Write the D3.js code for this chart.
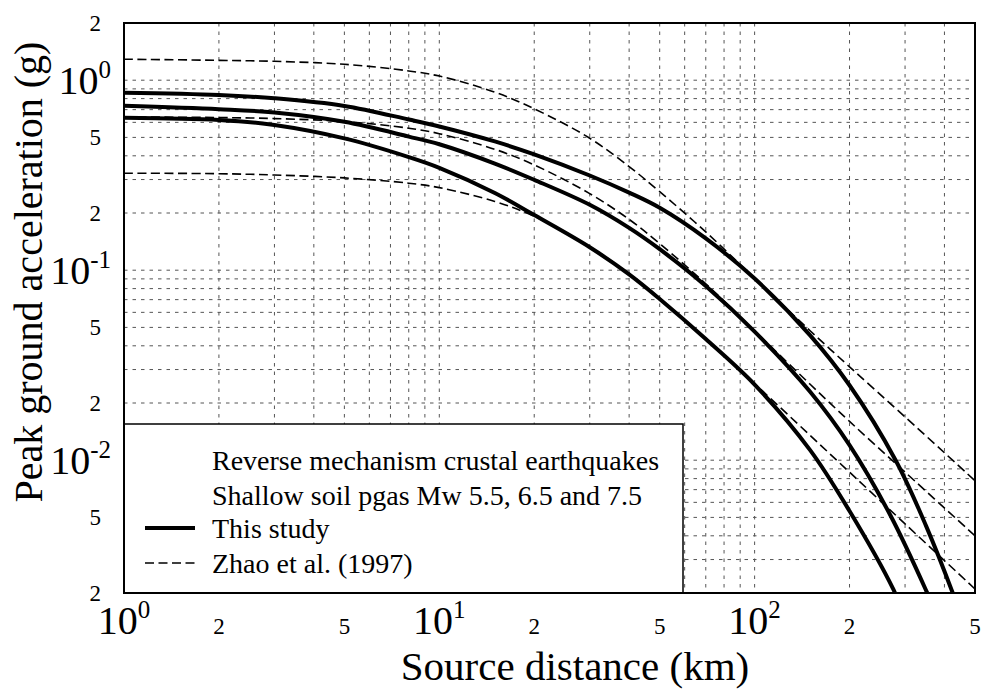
<!DOCTYPE html>
<html>
<head>
<meta charset="utf-8">
<script src="https://cdn.jsdelivr.net/npm/d3@7"></script>
<style>
  body { margin: 0; background: #fff; }
  svg text { font-family: "Liberation Serif", "Times New Roman", serif; fill: #000; }
</style>
</head>
<body>
<svg id="chart" width="982" height="690"></svg>
<script>
// Source distance (km) samples for the Zhao et al. (1997) curves
const zhaoDistance = [1, 2, 3, 5, 8, 10, 15, 20, 30, 40, 50, 70, 100, 150, 200, 300, 500];
// Zhao et al. (1997) PGA (g) for Mw 7.5, 6.5 and 5.5
const zhaoMw75 = [1.29, 1.272, 1.257, 1.213, 1.119, 1.051, 0.865, 0.707, 0.495, 0.351, 0.259, 0.159, 0.0906, 0.048, 0.031, 0.0169, 0.0078];
const zhaoMw65 = [0.64, 0.636, 0.628, 0.606, 0.559, 0.523, 0.433, 0.358, 0.253, 0.185, 0.138, 0.0848, 0.0479, 0.0251, 0.0160, 0.00866, 0.0040];
const zhaoMw55 = [0.324, 0.322, 0.317, 0.306, 0.287, 0.272, 0.230, 0.192, 0.133, 0.0958, 0.0709, 0.0435, 0.0253, 0.0135, 0.00865, 0.00462, 0.0021];

// This study: distances and PGA (g) for each magnitude
const studyDistanceMw75 = [1, 2, 3, 5, 8, 10, 15, 20, 30, 40, 50, 70, 100, 150, 200, 280, 350, 425, 440];
const studyMw75 = [0.86, 0.837, 0.803, 0.732, 0.621, 0.571, 0.476, 0.407, 0.315, 0.256, 0.213, 0.147, 0.0904, 0.0454, 0.0248, 0.0100, 0.0045, 0.0020, 0.0017];
const studyDistanceMw65 = [1, 2, 3, 5, 8, 10, 15, 20, 30, 40, 50, 70, 100, 150, 200, 270, 350, 365];
const studyMw65 = [0.734, 0.704, 0.676, 0.604, 0.505, 0.460, 0.364, 0.299, 0.221, 0.167, 0.129, 0.0826, 0.0475, 0.0229, 0.0120, 0.0051, 0.00206, 0.00175];
const studyDistanceMw55 = [1, 2, 3, 5, 8, 10, 15, 20, 30, 40, 50, 70, 100, 150, 200, 275, 290];
const studyMw55 = [0.635, 0.618, 0.581, 0.494, 0.394, 0.346, 0.255, 0.195, 0.132, 0.0950, 0.0705, 0.0434, 0.0250, 0.0113, 0.0054, 0.0021, 0.0017];

// Labelled tick values
const distanceTicks = [1, 2, 5, 10, 20, 50, 100, 200, 500];
const accelTicks = [2, 1, 0.5, 0.2, 0.1, 0.05, 0.02, 0.01, 0.005, 0.002];

const legendHeader = ["Reverse mechanism crustal earthquakes", "Shallow soil pgas Mw 5.5, 6.5 and 7.5"];
const legendEntries = [
  { label: "This study", solid: true },
  { label: "Zhao et al. (1997)", solid: false }
];

const svg = d3.select("#chart");
const plot = { left: 124, right: 975, top: 23, bottom: 593 };

const x = d3.scaleLog().domain([1, 500]).range([plot.left, plot.right]);
const y = d3.scaleLog().domain([0.002, 2]).range([plot.bottom, plot.top]);

// Grid at every 1..9 step of each decade
const xGrid = x.ticks().filter(v => v > 1 && v < 500);
const yGrid = y.ticks().filter(v => v > 0.002 && v < 2);
const grid = svg.append("g").attr("stroke", "#555").attr("stroke-width", 1).attr("stroke-dasharray", "3.5,5");
grid.selectAll("line.v").data(xGrid).join("line")
  .attr("x1", d => x(d)).attr("x2", d => x(d))
  .attr("y1", plot.top).attr("y2", plot.bottom);
grid.selectAll("line.h").data(yGrid).join("line")
  .attr("x1", plot.left).attr("x2", plot.right)
  .attr("y1", d => y(d)).attr("y2", d => y(d));

// Curves, clipped to the frame
svg.append("clipPath").attr("id", "plotClip").append("rect")
  .attr("x", plot.left).attr("y", plot.top)
  .attr("width", plot.right - plot.left).attr("height", plot.bottom - plot.top);

const line = d3.line().x(d => x(d[0])).y(d => y(d[1])).curve(d3.curveCatmullRom.alpha(0.5));
const curves = svg.append("g").attr("clip-path", "url(#plotClip)").attr("fill", "none").attr("stroke", "#000");

[zhaoMw75, zhaoMw65, zhaoMw55].forEach(vals => {
  curves.append("path")
    .attr("d", line(zhaoDistance.map((d, i) => [d, vals[i]])))
    .attr("stroke-width", 1.6).attr("stroke-dasharray", "9,4.5");
});
[[studyDistanceMw75, studyMw75], [studyDistanceMw65, studyMw65], [studyDistanceMw55, studyMw55]].forEach(([dist, vals]) => {
  curves.append("path")
    .attr("d", line(dist.map((d, i) => [d, vals[i]])))
    .attr("stroke-width", 4).attr("stroke-linejoin", "round");
});

// Legend
const legend = svg.append("g");
legend.append("rect")
  .attr("x", plot.left).attr("y", 424)
  .attr("width", 683 - plot.left).attr("height", plot.bottom - 424)
  .attr("fill", "#fff").attr("stroke", "#000").attr("stroke-width", 1.5);
legend.selectAll("text.head").data(legendHeader).join("text")
  .attr("x", 212).attr("y", (d, i) => 470 + i * 35)
  .attr("font-size", 28).text(d => d);
legendEntries.forEach((e, i) => {
  const yy = 538 + i * 35;
  legend.append("line")
    .attr("x1", 145).attr("x2", 195).attr("y1", yy - 10).attr("y2", yy - 10)
    .attr("stroke", "#000")
    .attr("stroke-width", e.solid ? 4 : 1.5)
    .attr("stroke-dasharray", e.solid ? null : "9,4.5");
  legend.append("text").attr("x", 212).attr("y", yy).attr("font-size", 28).text(e.label);
});

// Frame
svg.append("rect")
  .attr("x", plot.left).attr("y", plot.top)
  .attr("width", plot.right - plot.left).attr("height", plot.bottom - plot.top)
  .attr("fill", "none").attr("stroke", "#000").attr("stroke-width", 2);

// Tick labels: powers of ten as 10 with a raised exponent, other steps as the bare digit
const isDecade = v => Math.abs(Math.log10(v) - Math.round(Math.log10(v))) < 1e-9;
const mantissa = v => Math.round(v / Math.pow(10, Math.floor(Math.log10(v) + 1e-9)));

function decadeLabel(sel, v) {
  sel.append("tspan").attr("font-size", 40).text("10");
  sel.append("tspan").attr("font-size", 25).attr("dy", -16).text(String(Math.round(Math.log10(v))));
}

const xLabels = svg.append("g");
distanceTicks.forEach(v => {
  const t = xLabels.append("text").attr("x", x(v)).attr("y", 634).attr("text-anchor", "middle");
  if (isDecade(v)) decadeLabel(t, v);
  else t.attr("font-size", 23).text(mantissa(v));
});

const yLabels = svg.append("g");
accelTicks.forEach(v => {
  if (isDecade(v)) {
    const t = yLabels.append("text").attr("x", 111).attr("y", y(v) + 13.5).attr("text-anchor", "end");
    decadeLabel(t, v);
  } else {
    yLabels.append("text").attr("x", 101).attr("y", y(v) + 7.5).attr("text-anchor", "end")
      .attr("font-size", 23).text(mantissa(v));
  }
});

// Axis titles
svg.append("text").attr("x", 575).attr("y", 680).attr("text-anchor", "middle")
  .attr("font-size", 41).text("Source distance (km)");
svg.append("text").attr("transform", "translate(42,272) rotate(-90)").attr("text-anchor", "middle")
  .attr("font-size", 40).text("Peak ground acceleration (g)");
</script>
</body>
</html>
